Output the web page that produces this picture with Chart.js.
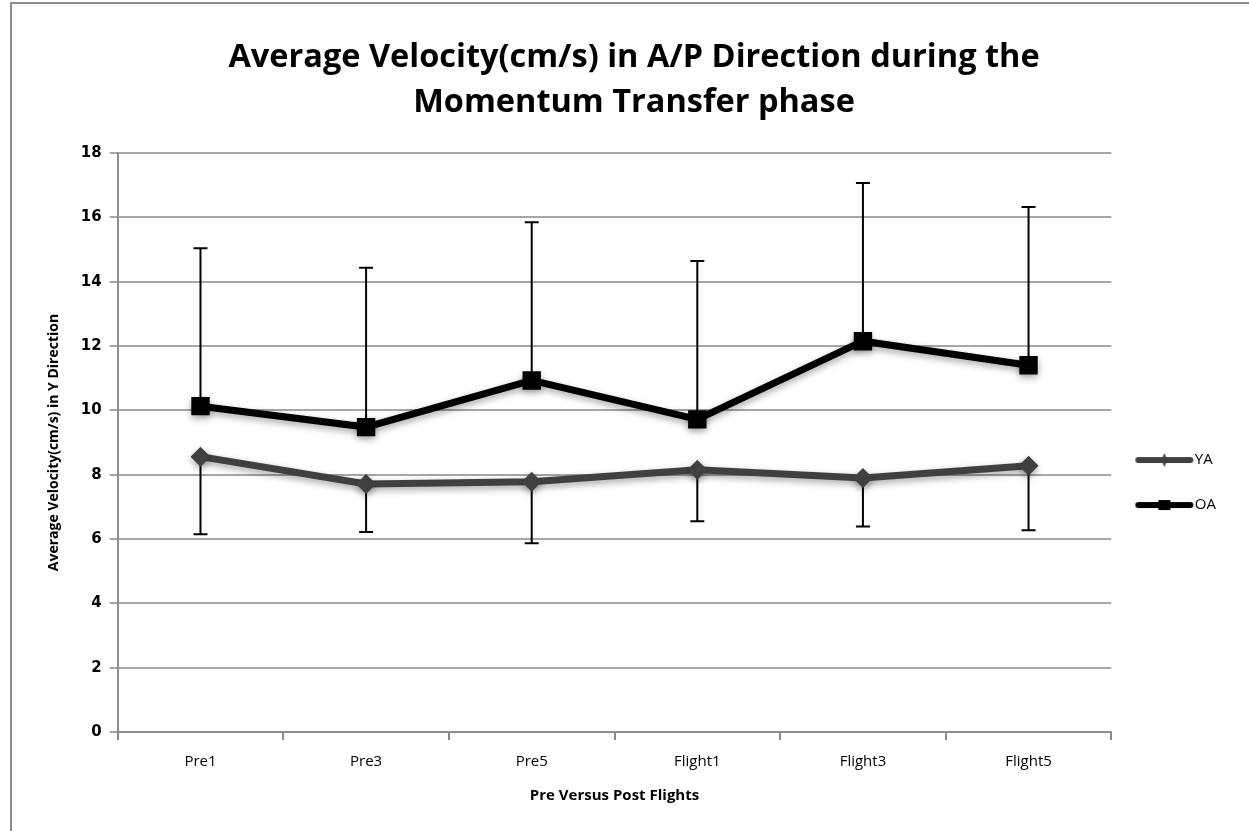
<!DOCTYPE html>
<html>
<head>
<meta charset="utf-8">
<script src="https://cdn.jsdelivr.net/npm/chart.js@4/dist/chart.umd.min.js"></script>
<style>
  html, body { margin: 0; padding: 0; background: #fff; }
  #frame { position: absolute; left: 10px; top: 2px; width: 1260px; height: 840px;
           border-left: 2px solid #8c8c8c; border-top: 2px solid #8c8c8c; }
  #wrap { position: absolute; left: 0; top: 0; width: 1249px; height: 831px; }
</style>
</head>
<body>
<div id="frame"></div>
<div id="wrap"><canvas id="myChart"></canvas></div>
<script>
const MY_CHART = document.querySelector("#myChart");

const categories = ["Pre1", "Pre3", "Pre5", "Flight1", "Flight3", "Flight5"];
const yaValues = [8.56, 7.71, 7.78, 8.15, 7.90, 8.28];
const yaErrDown = [2.41, 1.49, 1.91, 1.60, 1.51, 2.01];
const oaValues = [10.13, 9.48, 10.93, 9.72, 12.15, 11.40];
const oaErrUp = [4.91, 4.95, 4.92, 4.92, 4.92, 4.92];

const FONT = "'Open Sans', sans-serif";

// little line+marker pictures for the legend
function legendIcon(color, style) {
  const c = document.createElement("canvas");
  c.width = 60; c.height = 16;
  const ctx = c.getContext("2d");
  ctx.strokeStyle = color;
  ctx.fillStyle = color;
  ctx.lineWidth = 6;
  ctx.lineCap = "round";
  ctx.beginPath(); ctx.moveTo(4, 8); ctx.lineTo(56, 8); ctx.stroke();
  if (style === "rect") {
    ctx.fillRect(24, 3, 12, 10);
  } else {
    ctx.beginPath(); ctx.moveTo(30, 1); ctx.lineTo(33, 8); ctx.lineTo(30, 15); ctx.lineTo(27, 8); ctx.closePath(); ctx.fill();
  }
  return c;
}

const errorBars = {
  id: "errorBars",
  beforeDatasetsDraw(chart) {
    const ctx = chart.ctx;
    const y = chart.scales.y;
    ctx.save();
    ctx.strokeStyle = "#000";
    ctx.lineWidth = 2;
    chart.data.datasets.forEach((ds, i) => {
      const meta = chart.getDatasetMeta(i);
      meta.data.forEach((pt, j) => {
        const v = ds.data[j];
        const end = ds.errDir > 0 ? v + ds.err[j] : v - ds.err[j];
        const yEnd = y.getPixelForValue(end);
        ctx.beginPath();
        ctx.moveTo(pt.x, pt.y); ctx.lineTo(pt.x, yEnd);
        ctx.moveTo(pt.x - 7, yEnd); ctx.lineTo(pt.x + 7, yEnd);
        ctx.stroke();
      });
    });
    ctx.restore();
    // soft shadow under the series lines
    ctx.save();
    ctx.shadowColor = "rgba(0,0,0,0.35)";
    ctx.shadowBlur = 7;
    ctx.shadowOffsetY = 3;
  },
  afterDatasetsDraw(chart) {
    chart.ctx.restore();
  }
};

const data = {
  labels: categories,
  datasets: [
    {
      label: "YA",
      data: yaValues,
      err: yaErrDown,
      errDir: -1,
      borderColor: "#404040",
      backgroundColor: "#404040",
      borderWidth: 7,
      pointStyle: "rectRot",
      pointRadius: 10,
      pointBorderWidth: 0,
      tension: 0,
      icon: legendIcon("#404040", "rectRot")
    },
    {
      label: "OA",
      data: oaValues,
      err: oaErrUp,
      errDir: 1,
      borderColor: "#000",
      backgroundColor: "#000",
      borderWidth: 7,
      pointStyle: "rect",
      pointRadius: 13,
      pointBorderWidth: 0,
      tension: 0,
      icon: legendIcon("#000", "rect")
    }
  ]
};

const CONFIG = {
  type: "line",
  data: data,
  plugins: [errorBars],
  options: {
    responsive: false,
    animation: false,
    layout: { padding: { left: 42, right: 23, top: 10, bottom: 22 } },
    plugins: {
      tooltip: { enabled: false },
      title: {
        display: true,
        text: ["Average Velocity(cm/s) in A/P Direction during the", "Momentum Transfer phase"],
        color: "#000",
        font: { family: FONT, size: 32.5, weight: "bold", lineHeight: 1.385 },
        padding: { top: 25, bottom: 28 }
      },
      legend: {
        position: "right",
        fullSize: false,
        title: { display: true, text: "", padding: { top: 34, bottom: 34 }, font: { size: 10 } },
        labels: {
          usePointStyle: true,
          pointStyleWidth: 46,
          padding: 30,
          color: "#000",
          font: { family: FONT, size: 15 },
          generateLabels(chart) {
            return chart.data.datasets.map((ds, i) => ({
              text: ds.label,
              pointStyle: ds.icon,
              fillStyle: ds.borderColor,
              strokeStyle: ds.borderColor,
              lineWidth: 0,
              datasetIndex: i,
              fontColor: "#000"
            }));
          }
        }
      }
    },
    scales: {
      x: {
        offset: true,
        grid: { offset: true, drawOnChartArea: false, drawTicks: true, tickLength: 8, color: "#8c8c8c", lineWidth: 2 },
        border: { color: "#8c8c8c", width: 2 },
        ticks: { color: "#000", font: { family: FONT, size: 15 }, padding: 13 },
        title: {
          display: true,
          text: "Pre Versus Post Flights",
          color: "#000",
          font: { family: FONT, size: 15, weight: "bold" },
          padding: { top: 3 }
        }
      },
      y: {
        min: 0,
        max: 18,
        ticks: { stepSize: 2, color: "#000", font: { family: "'DejaVu Sans', sans-serif", size: 15, weight: "bold" }, padding: 8 },
        grid: { color: "#a6a6a6", lineWidth: 2, tickLength: 8 },
        border: { color: "#8c8c8c", width: 2 },
        title: {
          display: true,
          text: "Average Velocity(cm/s) in Y Direction",
          color: "#000",
          font: { family: FONT, size: 14, weight: "bold" },
          padding: { bottom: 10 }
        }
      }
    }
  }
};

MY_CHART.width = 1249;
MY_CHART.height = 831;
new Chart(MY_CHART, CONFIG);
</script>
</body>
</html>
